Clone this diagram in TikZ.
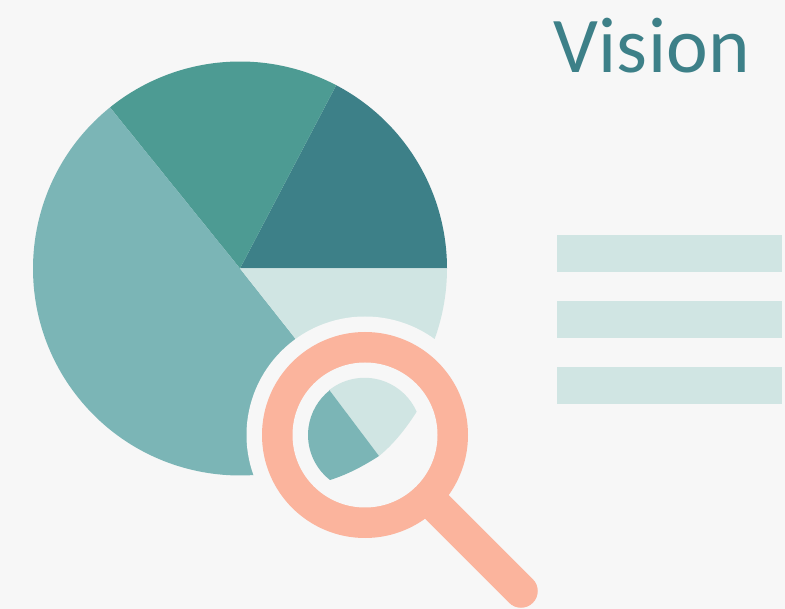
\documentclass[tikz,border=0pt]{standalone}
\usepackage{fontspec}
\setmainfont{Carlito}
\definecolor{bgc}{HTML}{F7F7F7}
\definecolor{lightc}{HTML}{D0E5E3}
\definecolor{tealc}{HTML}{7BB5B6}
\definecolor{greenc}{HTML}{4D9B93}
\definecolor{darkc}{HTML}{3D8088}
\definecolor{salmonc}{HTML}{FBB49D}
\tikzset{bar/.style={fill=lightc,draw=none}}
\begin{document}
\begin{tikzpicture}[x=1pt,y=-1pt]
\useasboundingbox (0,0) rectangle (785,609);
\fill[bgc] (0,0) rectangle (785,609);
% pie (y axis points down: angles are mirrored)
\coordinate (c) at (240,268.5);
\fill[darkc] (c) -- ++(0:207) arc[start angle=0,end angle=-62.3,radius=207] -- cycle;
\fill[greenc] (c) -- ++(-62.3:207) arc[start angle=-62.3,end angle=-128.9,radius=207] -- cycle;
\fill[tealc] (c) -- ++(-128.9:207) arc[start angle=-128.9,end angle=-308.3,radius=207] -- cycle;
\fill[lightc] (c) -- ++(51.7:207) arc[start angle=51.7,end angle=0,radius=207] -- cycle;
% halo
\coordinate (l) at (365,435);
\fill[bgc] (l) circle[radius=118.5];
% handle
\coordinate (h) at (521,591);
\draw[salmonc,line width=33.5pt,line cap=round] (l) -- (h);
% ring
\fill[salmonc] (l) circle[radius=103];
\fill[bgc] (l) circle[radius=72.5];
% magnified pie
\fill[lightc] (329.3,390) arc[start angle=-128.2,end angle=-23.9,radius=57]
  .. controls (407,427) and (394,444) .. (379,456) -- cycle;
\fill[tealc] (329.3,390) -- (379,456) .. controls (362,467) and (346,475) .. (330,480)
  arc[start angle=127.9,end angle=231.8,radius=57] -- cycle;
% bars
\fill[bar] (557,235) rectangle (781.5,272);
\fill[bar] (557,301) rectangle (781.5,338);
\fill[bar] (557,367) rectangle (781.5,404);
% title
\node[text=darkc,font=\fontsize{79}{79}\selectfont\addfontfeature{LetterSpace=0.5}\relax,inner sep=0pt,anchor=base west] (title) at (553,72.5) {Vision};
\end{tikzpicture}
\end{document}
